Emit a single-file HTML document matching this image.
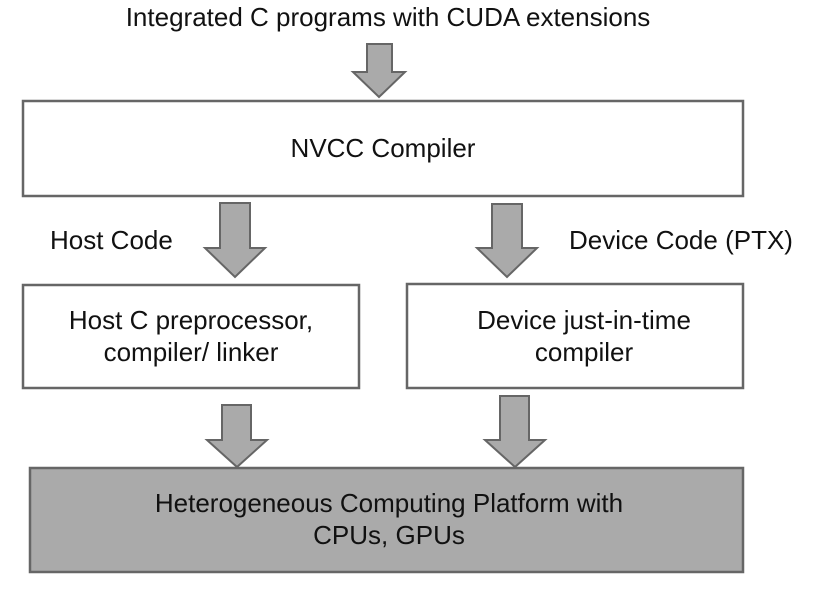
<!DOCTYPE html>
<html><head><style>
body{margin:0;width:820px;height:594px;background:#fff;overflow:hidden;position:relative;font-family:"Liberation Sans",Arial,sans-serif;color:#111}
.t{position:absolute;white-space:nowrap;font-size:26px;line-height:30px}
.c{text-align:center;transform:translateX(-50%)}
</style></head><body>
<svg width="820" height="594" style="position:absolute;left:0;top:0">
<g stroke="#666" stroke-width="2.5">
<rect x="23" y="101" width="720" height="95" fill="#fff"/>
<rect x="23" y="285" width="336" height="103" fill="#fff"/>
<rect x="407" y="284" width="336" height="104" fill="#fff"/>
<rect x="30" y="468" width="713" height="104" fill="#aaa"/>
</g>
<g fill="#aaa" stroke="#666" stroke-width="2" stroke-linejoin="miter">
<polygon points="367,44 392,44 392,72 405,72 379,97 353,72 367,72"/>
<polygon points="220,203 250,203 250,248 265,248 235,277 205,248 220,248"/>
<polygon points="492,204 522,204 522,248 537,248 507,277 477,248 492,248"/>
<polygon points="222,405 251,405 251,440 267,440 237,467 207,440 222,440"/>
<polygon points="500,396 529,396 529,440 545,440 515,467 485,440 500,440"/>
</g>
</svg>
<div class="t c" style="left:388px;top:2px">Integrated C programs with CUDA extensions</div>
<div class="t c" style="left:383px;top:133px">NVCC Compiler</div>
<div class="t" style="left:50px;top:225px">Host Code</div>
<div class="t" style="left:569px;top:225px">Device Code (PTX)</div>
<div class="t c" style="left:191px;top:304px;line-height:32px">Host C preprocessor,<br>compiler/ linker</div>
<div class="t c" style="left:584px;top:304px;line-height:32px">Device just-in-time<br>compiler</div>
<div class="t c" style="left:389px;top:487px;line-height:32px">Heterogeneous Computing Platform with<br>CPUs, GPUs</div>
</body></html>
